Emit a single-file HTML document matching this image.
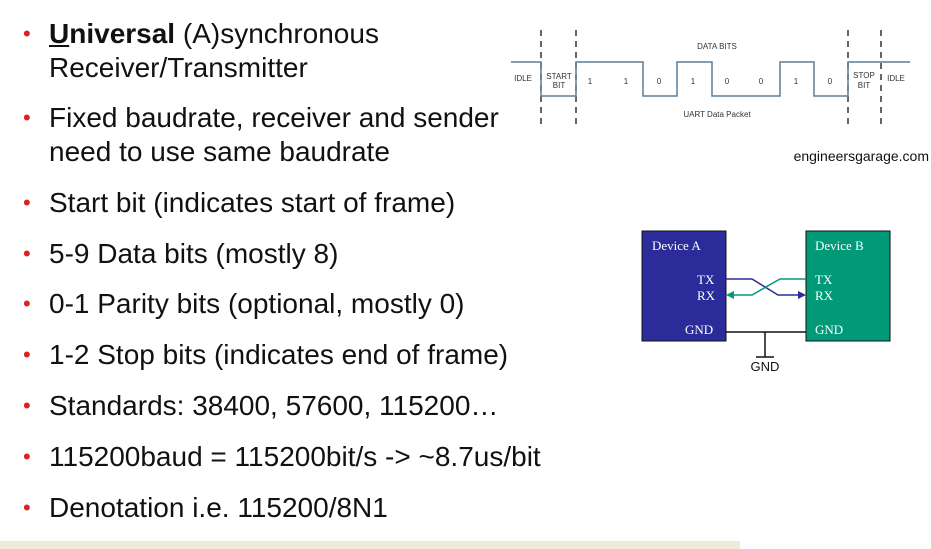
<!DOCTYPE html><html><head><style>
body{margin:0;width:931px;height:549px;background:#fff;position:relative;overflow:hidden;font-family:"Liberation Sans",sans-serif;}
.b{position:absolute;left:49px;font-size:28px;color:#111;line-height:34px;white-space:nowrap}
.b:before{content:"•";color:#d22;position:absolute;left:-26px;font-size:22px}
</style></head><body>
<div class="b" style="top:17px"><b><u>U</u>niversal</b> (A)synchronous<br>Receiver/Transmitter</div>
<div class="b" style="top:101px">Fixed baudrate, receiver and sender<br>need to use same baudrate</div>
<div class="b" style="top:186px">Start bit (indicates start of frame)</div>
<div class="b" style="top:237px">5-9 Data bits (mostly 8)</div>
<div class="b" style="top:287px">0-1 Parity bits (optional, mostly 0)</div>
<div class="b" style="top:338px">1-2 Stop bits (indicates end of frame)</div>
<div class="b" style="top:389px">Standards: 38400, 57600, 115200…</div>
<div class="b" style="top:440px">115200baud = 115200bit/s -&gt; ~8.7us/bit</div>
<div class="b" style="top:491px">Denotation i.e. 115200/8N1</div>
<div style="position:absolute;left:0;top:541px;width:740px;height:8px;background:#efeadb"></div>
<svg width="931" height="549" style="position:absolute;left:0;top:0" font-family="Liberation Sans,sans-serif">
<g stroke="#333" stroke-width="1.5" stroke-dasharray="6,5"><line x1="541" y1="30" x2="541" y2="127"/><line x1="576" y1="30" x2="576" y2="127"/><line x1="848" y1="30" x2="848" y2="127"/><line x1="881" y1="30" x2="881" y2="127"/></g>
<polyline fill="none" stroke="#5a7f9a" stroke-width="1.5" points="511,62 541,62 541,96 576,96 576,62 643,62 643,96 677,96 677,62 712,62 712,96 780,96 780,62 814,62 814,96 848,96 848,62 910,62"/>
<g font-size="8" fill="#333" text-anchor="middle">
<text x="717" y="49">DATA BITS</text><text x="717" y="117">UART Data Packet</text>
<text x="523" y="81">IDLE</text><text x="559" y="79">START</text><text x="559" y="88">BIT</text>
<text x="864" y="78">STOP</text><text x="864" y="88">BIT</text><text x="896" y="81">IDLE</text>
<text x="590" y="84">1</text><text x="626" y="84">1</text><text x="659" y="84">0</text><text x="693" y="84">1</text><text x="727" y="84">0</text><text x="761" y="84">0</text><text x="796" y="84">1</text><text x="830" y="84">0</text>
</g>
<text x="929" y="161" font-size="14" fill="#111" text-anchor="end">engineersgarage.com</text>
<rect x="642" y="231" width="84" height="110" fill="#2b2b99" stroke="#111"/>
<rect x="806" y="231" width="84" height="110" fill="#009a78" stroke="#111"/>
<g font-family="Liberation Serif,serif" font-size="13" fill="#fff">
<text x="652" y="250">Device A</text><text x="815" y="250">Device B</text>
<text x="697" y="284">TX</text><text x="697" y="300">RX</text><text x="685" y="334">GND</text>
<text x="815" y="284">TX</text><text x="815" y="300">RX</text><text x="815" y="334">GND</text>
</g>
<polyline fill="none" stroke="#2b2b99" stroke-width="1.5" points="726,279 752,279 778,295 800,295"/>
<polygon points="806,295 798,291 798,299" fill="#2b2b99"/>
<polyline fill="none" stroke="#009a78" stroke-width="1.5" points="806,279 780,279 752,295 732,295"/>
<polygon points="726,295 734,291 734,299" fill="#009a78"/>
<g stroke="#111" stroke-width="1.5"><line x1="726" y1="332" x2="806" y2="332"/><line x1="765" y1="332" x2="765" y2="357"/><line x1="756" y1="357" x2="774" y2="357"/></g>
<text x="765" y="371" font-size="13" fill="#111" text-anchor="middle">GND</text>
</svg>
</body></html>
